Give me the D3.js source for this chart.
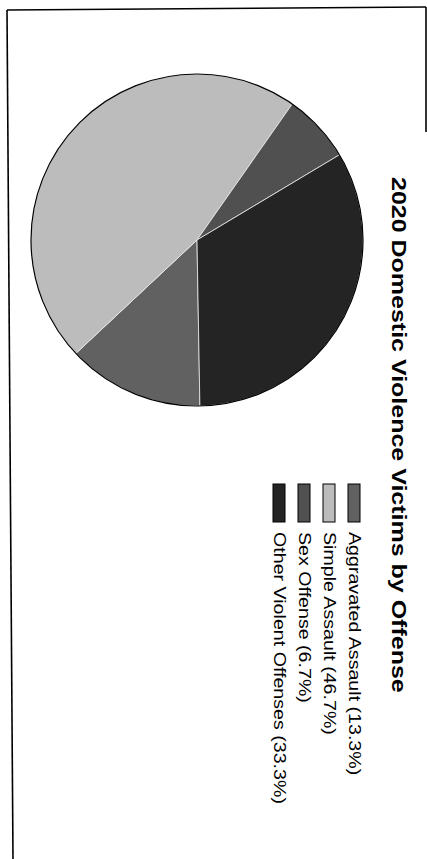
<!DOCTYPE html>
<html>
<head>
<meta charset="utf-8">
<script src="https://cdn.jsdelivr.net/npm/d3@7"></script>
<style>
  html, body { margin: 0; padding: 0; background: #fff; }
  svg { display: block; }
  text { font-family: "Liberation Sans", Arial, Helvetica, sans-serif; fill: #000; }
</style>
</head>
<body>
<svg id="chart" width="427" height="859"></svg>
<script>
// ---- data ----
const title = "2020 Domestic Violence Victims by Offense";
const categories = ["Aggravated Assault", "Simple Assault", "Sex Offense", "Other Violent Offenses"];
const shares = [13.3, 46.7, 6.7, 33.3];          // percent of victims
const shades = ["#616161", "#bcbcbc", "#505050", "#242424"];

const W = 427, H = 859;
const svg = d3.select("#chart");

// scanned page frame (page is rotated 90 degrees)
const frame = svg.append("g").attr("fill", "none").attr("stroke", "#000").attr("stroke-width", 1.6);
frame.append("path").attr("d", d3.line()([[7, 10], [13, H]]));
frame.append("path").attr("d", d3.line()([[7, 10], [426, 7]]));
frame.append("path").attr("d", d3.line()([[426, 7], [426, 132]]));

// chart drawn in its own (unrotated) frame, then turned 90deg clockwise
const g = svg.append("g").attr("transform", `translate(${W},0) rotate(90)`);

const data = categories.map((c, i) => ({ name: c, value: shares[i], color: shades[i] }));

const cx = 240, cy = 230, r = 166;
const start = 89 * Math.PI / 180;
const pie = d3.pie().sort(null).value(d => d.value)
  .startAngle(start).endAngle(start + 2 * Math.PI);
const arc = d3.arc().innerRadius(0).outerRadius(r);

const pg = g.append("g").attr("transform", `translate(${cx},${cy})`);
pg.selectAll("path.slice").data(pie(data)).join("path")
  .attr("class", "slice")
  .attr("d", arc)
  .attr("fill", d => d.data.color)
  .attr("stroke", "#eee")
  .attr("stroke-width", 0.8);
pg.append("circle").attr("r", r).attr("fill", "none").attr("stroke", "#000").attr("stroke-width", 1.2);

// title (glyphs are stretched along the baseline in the scan)
const stretch = 1.19;
g.append("text")
  .attr("transform", `translate(177,35) scale(${stretch},1)`)
  .attr("font-size", 21)
  .attr("font-weight", "bold")
  .text(title);

// legend
const fmt = d3.format(".1f");
const lg = g.append("g");
const rows = lg.selectAll("g.row").data(data).join("g")
  .attr("class", "row")
  .attr("transform", (d, i) => `translate(0,${78 + i * 25})`);
rows.append("rect")
  .attr("x", 484).attr("y", -11)
  .attr("width", 38).attr("height", 12)
  .attr("fill", d => d.color)
  .attr("stroke", "#000").attr("stroke-width", 1);
rows.append("text")
  .attr("transform", `translate(532,0) scale(${stretch},1)`)
  .attr("font-size", 16.5)
  .text(d => `${d.name} (${fmt(d.value)}%)`);
</script>
</body>
</html>
